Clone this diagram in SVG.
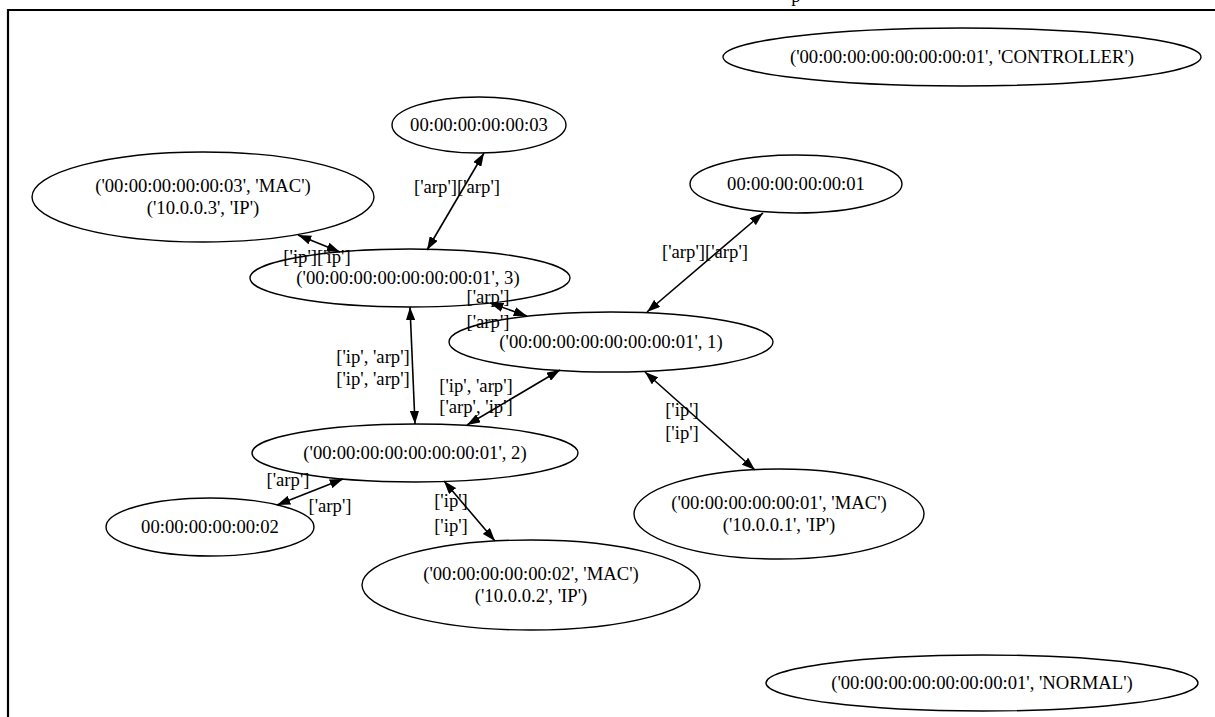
<svg xmlns="http://www.w3.org/2000/svg" width="1215" height="717" viewBox="0 0 1215 717">
<style>
.n ellipse{fill:none;stroke:#000;stroke-width:1.4}
text{font-family:"Liberation Serif","Times New Roman",serif;font-size:18.67px;fill:#000;text-anchor:middle}
.e line{stroke:#000;stroke-width:1.6;marker-start:url(#ah);marker-end:url(#ah)}
</style>
<defs>
<marker id="ah" viewBox="0 0 10 7" refX="10" refY="3.5" markerWidth="13.3" markerHeight="9.3" markerUnits="userSpaceOnUse" orient="auto-start-reverse"><path d="M0,0 L10,3.5 L0,7 z" fill="#000"/></marker>
</defs>
<rect width="1215" height="717" fill="#fff"/>
<text id="title" x="796" y="2">p</text>
<path d="M8,717 V10 H1215" fill="none" stroke="#000" stroke-width="2.2"/>
<g id="controller" class="n"><ellipse cx="962" cy="57" rx="239" ry="29"/><text x="962" y="63">('00:00:00:00:00:00:00:01', 'CONTROLLER')</text></g>
<g id="h3" class="n"><ellipse cx="479" cy="125" rx="87" ry="28"/><text x="479" y="131">00:00:00:00:00:03</text></g>
<g id="mac3" class="n"><ellipse cx="203" cy="197" rx="171" ry="45"/><text x="203" y="192">('00:00:00:00:00:03', 'MAC')</text><text x="203" y="214">('10.0.0.3', 'IP')</text></g>
<g id="sw3" class="n"><ellipse cx="410" cy="278" rx="160" ry="29"/><text x="408" y="284">('00:00:00:00:00:00:00:01', 3)</text></g>
<g id="h1" class="n"><ellipse cx="796" cy="184" rx="106" ry="29"/><text x="796" y="190">00:00:00:00:00:01</text></g>
<g id="sw1" class="n"><ellipse cx="611" cy="342" rx="162" ry="30"/><text x="611" y="348">('00:00:00:00:00:00:00:01', 1)</text></g>
<g id="sw2" class="n"><ellipse cx="415" cy="453" rx="163" ry="29"/><text x="415" y="459">('00:00:00:00:00:00:00:01', 2)</text></g>
<g id="h2" class="n"><ellipse cx="210" cy="527" rx="104" ry="29"/><text x="210" y="533">00:00:00:00:00:02</text></g>
<g id="mac2" class="n"><ellipse cx="531" cy="585" rx="169" ry="45"/><text x="531" y="580">('00:00:00:00:00:02', 'MAC')</text><text x="531" y="602">('10.0.0.2', 'IP')</text></g>
<g id="mac1" class="n"><ellipse cx="779" cy="514" rx="145" ry="45"/><text x="779" y="509">('00:00:00:00:00:01', 'MAC')</text><text x="779" y="531">('10.0.0.1', 'IP')</text></g>
<g id="normal" class="n"><ellipse cx="982" cy="683" rx="216" ry="28"/><text x="982" y="689">('00:00:00:00:00:00:00:01', 'NORMAL')</text></g>
<g id="edges" class="e">
<line x1="484" y1="153" x2="427" y2="250"/><text x="457" y="193">['arp']['arp']</text>
<line x1="298" y1="235" x2="340" y2="252"/><text x="317" y="263">['ip']['ip']</text>
<line x1="490" y1="303" x2="527" y2="316"/><text x="488" y="303">['arp']</text><text x="488" y="328">['arp']</text>
<line x1="763" y1="213" x2="647" y2="312"/><text x="705" y="258">['arp']['arp']</text>
<line x1="410" y1="307" x2="415" y2="424"/><text x="373" y="363">['ip', 'arp']</text><text x="373" y="385">['ip', 'arp']</text>
<line x1="467" y1="425" x2="560" y2="370"/><text x="476" y="392">['ip', 'arp']</text><text x="476" y="413">['arp', 'ip']</text>
<line x1="343" y1="479" x2="277" y2="505"/><text x="288" y="486">['arp']</text><text x="330" y="512">['arp']</text>
<line x1="444" y1="481" x2="495" y2="541"/><text x="451" y="507">['ip']</text><text x="451" y="532">['ip']</text>
<line x1="645" y1="372" x2="755" y2="470"/><text x="682" y="416">['ip']</text><text x="682" y="439">['ip']</text>
</g>
</svg>
